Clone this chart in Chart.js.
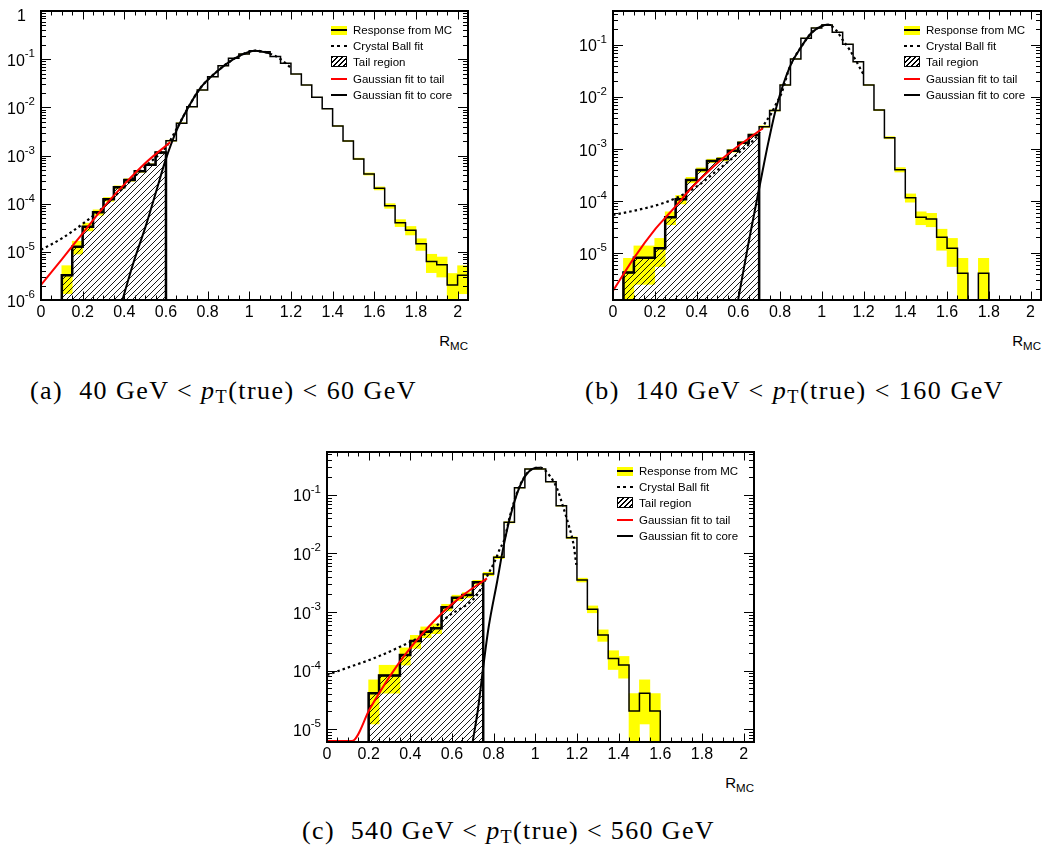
<!DOCTYPE html>
<html>
<head>
<meta charset="utf-8">
<title>Response distributions R_MC</title>
<script src="https://cdn.jsdelivr.net/npm/chart.js@4.4.1/dist/chart.umd.min.js"></script>
<style>
  html,body{margin:0;padding:0;background:#fff;}
  body{position:relative;width:1052px;height:848px;overflow:hidden;font-family:"Liberation Sans",Arial,Helvetica,sans-serif;color:#000;}
  canvas{position:absolute;}
  .leg{position:absolute;font-size:11.5px;}
  .row{position:absolute;left:0;width:140px;height:0;}
  .sym{position:absolute;left:0;width:16px;}
  .txt{position:absolute;left:22px;top:-8px;height:16px;line-height:16px;white-space:nowrap;}
  .s0{top:-4.5px;height:9px;background:linear-gradient(#ff0 0 3.5px,#000 3.5px 5.5px,#ff0 5.5px 9px);}
  .s1{top:-1px;height:2px;background:repeating-linear-gradient(90deg,#000 0 3px,transparent 3px 6.5px);}
  .s2{top:-5.5px;height:11px;box-sizing:border-box;border:1px solid #000;background:repeating-linear-gradient(135deg,#000 0 1px,transparent 1px 3.5px);}
  .s3{top:-1px;height:2px;background:#f00;}
  .s4{top:-1px;height:2px;background:#000;}
  .rmc{position:absolute;font-size:15px;line-height:15px;white-space:nowrap;}
  .rmc span{font-size:11.5px;position:relative;top:4px;}
  .cap{position:absolute;font-family:"Liberation Serif","Times New Roman",serif;font-size:26px;line-height:26px;white-space:nowrap;}
  .cap .sb{font-size:0.7em;position:relative;top:0.22em;}
</style>
</head>
<body>
<canvas id="cA" width="480" height="330" style="left:0px;top:0px"></canvas>
<canvas id="cB" width="492" height="330" style="left:560px;top:0px"></canvas>
<canvas id="cC" width="500" height="332" style="left:270px;top:440px"></canvas>
<div class="cap" id="capA" style="left:30px;top:378px">(a)&nbsp; 40 GeV &lt; <i>p</i><span class="sb">T</span>(true) &lt; 60 GeV</div>
<div class="cap" id="capB" style="left:585px;top:378px">(b)&nbsp; 140 GeV &lt; <i>p</i><span class="sb">T</span>(true) &lt; 160 GeV</div>
<div class="cap" id="capC" style="left:302px;top:818px">(c)&nbsp; 540 GeV &lt; <i>p</i><span class="sb">T</span>(true) &lt; 560 GeV</div>
<script>
// ---------------- DATA ----------------
const binLow = [0.00,0.05,0.10,0.15,0.20,0.25,0.30,0.35,0.40,0.45,0.50,0.55,0.60,0.65,0.70,0.75,0.80,0.85,0.90,0.95,
                1.00,1.05,1.10,1.15,1.20,1.25,1.30,1.35,1.40,1.45,1.50,1.55,1.60,1.65,1.70,1.75,1.80,1.85,1.90,1.95,2.00];
const binWidth = 0.05;
const xTickValues = [0,0.2,0.4,0.6,0.8,1,1.2,1.4,1.6,1.8,2];
const xTickLabels = ['0','0.2','0.4','0.6','0.8','1','1.2','1.4','1.6','1.8','2'];
const legendLabels = ['Response from MC','Crystal Ball fit','Tail region','Gaussian fit to tail','Gaussian fit to core'];

// panel (a) 40-60 GeV
const histA = [0,0,3.26e-6,1.28e-5,3.33e-5,6.6e-5,1.23e-4,2.19e-4,3.1e-4,4.7e-4,6.45e-4,1.15e-3,2.03e-3,4.7e-3,1.03e-2,2.29e-2,4.33e-2,7.3e-2,0.104,0.128,
               0.150,0.143,0.113,0.082,0.049,0.029,0.0161,9.4e-3,4.1e-3,2.0e-3,8.5e-4,4.13e-4,2.08e-4,9.0e-5,4.0e-5,2.8e-5,1.47e-5,6.3e-6,5.4e-6,2.05e-6,3.25e-6];
const errA  = [0,0,1.9e-6,3.8e-6,6.1e-6,8.5e-6,1.16e-5,1.55e-5,1.85e-5,2.3e-5,2.7e-5,3.6e-5,4.7e-5,7.2e-5,1.07e-4,1.6e-4,2.2e-4,2.8e-4,3.4e-4,3.8e-4,
               4.1e-4,4.0e-4,3.5e-4,3.0e-4,2.3e-4,1.8e-4,1.33e-4,1.02e-4,6.7e-5,4.7e-5,3.1e-5,2.1e-5,1.5e-5,1.0e-5,6.6e-6,5.6e-6,4.0e-6,2.6e-6,2.4e-6,1.5e-6,1.9e-6];
const tailCutA = 0.6;
const redAx  = [0,0.1,0.2,0.3,0.4,0.5,0.62];
const redAy  = [2.05e-6,7.0e-6,2.43e-5,8.4e-5,2.52e-4,6.9e-4,1.88e-3];
const cbAx   = [0,0.1,0.2,0.3,0.4,0.5,0.6,0.65,0.7,0.764,0.844,0.924,1.0,1.03,1.1,1.15,1.2];
const cbAy   = [1.1e-5,1.9e-5,3.8e-5,8.5e-5,2.25e-4,5.9e-4,1.5e-3,3.5e-3,8.8e-3,0.0248,0.055,0.1,0.143,0.150,0.13,0.1,0.066];
const coreAx = [0.392,0.443,0.507,0.555,0.599,0.652,0.7,0.764,0.844,0.924,1.0,1.03,1.1];
const coreAy = [1e-6,5.8e-6,3.9e-5,1.92e-4,8.3e-4,3.4e-3,8.8e-3,0.0248,0.055,0.1,0.143,0.150,0.132];
const yExpA = [0,-1,-2,-3,-4,-5,-6];

// panel (b) 140-160 GeV
const histB = [0,4.2e-6,8.1e-6,8.1e-6,1.23e-5,4.85e-5,1.08e-4,2.54e-4,3.95e-4,5.9e-4,6.4e-4,9.3e-4,1.32e-3,1.86e-3,2.69e-3,5.5e-3,1.7e-2,5.4e-2,0.135,0.213,
               0.243,0.175,0.103,0.0478,0.017,5.6e-3,1.65e-3,4.0e-4,1.16e-4,4.85e-5,4.5e-5,2.0e-5,1.23e-5,4.1e-6,0,4.1e-6,0,0,0,0,0];
const errB  = [0,3.7e-6,5.6e-6,5.6e-6,6.8e-6,1.35e-5,2.0e-5,3.1e-5,3.9e-5,4.7e-5,4.9e-5,5.9e-5,7.0e-5,8.3e-5,1.0e-4,1.4e-4,2.5e-4,4.5e-4,7.0e-4,9.0e-4,
               9.5e-4,8.0e-4,6.0e-4,4.2e-4,2.5e-4,1.45e-4,7.8e-5,3.9e-5,2.1e-5,1.35e-5,1.3e-5,8.7e-6,6.8e-6,3.8e-6,0,3.8e-6,0,0,0,0,0];
const tailCutB = 0.7;
const redBx  = [0,0.1,0.204,0.255,0.306,0.359,0.462,0.558,0.718];
const redBy  = [1.88e-6,8.0e-6,2.94e-5,5.0e-5,8.4e-5,1.51e-4,3.9e-4,8.5e-4,2.5e-3];
const cbBx   = [0,0.1,0.2,0.3,0.4,0.5,0.6,0.7,0.727,0.759,0.783,0.807,0.847,0.9,0.95,1.0,1.03,1.07,1.1,1.134,1.166,1.2];
const cbBy   = [5.4e-5,6.5e-5,8.1e-5,1.13e-4,1.89e-4,3.9e-4,8.3e-4,2.0e-3,3.1e-3,4.9e-3,7.6e-3,1.18e-2,0.038,0.09,0.17,0.232,0.245,0.19,0.125,0.08,0.048,0.027];
const coreBx = [0.6,0.652,0.703,0.745,0.783,0.847,0.9,0.95,1.0,1.03,1.045];
const coreBy = [1.26e-6,1.8e-5,2.0e-4,1.4e-3,6.5e-3,0.038,0.09,0.17,0.232,0.245,0.242];
const yExpB = [-1,-2,-3,-4,-5];

// panel (c) 540-560 GeV
const histC = [0,0,0,0,4.07e-5,8.2e-5,8.2e-5,1.84e-4,3.19e-4,4.6e-4,5.26e-4,1.2e-3,1.75e-3,1.95e-3,3.22e-3,4.47e-3,8.6e-3,3.41e-2,0.133,0.278,
               0.278,0.169,0.0656,0.0186,3.52e-3,1.12e-3,4.05e-4,1.61e-4,1.24e-4,2.03e-5,4.07e-5,2.03e-5,0,0,0,0,0,0,0,0,0];
const errC  = [0,0,0,0,2.85e-5,4.1e-5,4.1e-5,6.0e-5,8.0e-5,9.6e-5,1.0e-4,1.55e-4,1.9e-4,2.0e-4,2.55e-4,3.0e-4,4.2e-4,8.3e-4,1.6e-3,2.4e-3,
               2.4e-3,1.85e-3,1.15e-3,6.1e-4,2.65e-4,1.5e-4,9.0e-5,5.7e-5,5.0e-5,2.0e-5,2.85e-5,2.0e-5,0,0,0,0,0,0,0,0,0];
const tailCutC = 0.75;
const redCx  = [0,0.05,0.12,0.207,0.303,0.375,0.463,0.559,0.655,0.768];
const redCy  = [1.0e-6,2.0e-6,6.15e-6,2.26e-5,8.1e-5,1.87e-4,4.46e-4,1.01e-3,1.96e-3,3.76e-3];
const cbCx   = [0,0.111,0.223,0.351,0.463,0.591,0.72,0.776,0.808,0.832,0.848,0.88,0.92,0.96,1.0,1.024,1.072,1.104,1.136,1.16,1.184,1.197];
const cbCy   = [8.4e-5,1.16e-4,1.61e-4,2.55e-4,4.05e-4,8.9e-4,1.95e-3,4.6e-3,7.7e-3,1.25e-2,1.6e-2,0.046,0.13,0.235,0.29,0.293,0.206,0.13,0.059,0.0307,0.014,6.4e-3];
const coreCx = [0.70,0.725,0.752,0.776,0.816,0.848,0.88,0.92,0.96,1.0,1.024];
const coreCy = [4.5e-6,2.2e-5,1.3e-4,5.5e-4,3.2e-3,0.0135,0.043,0.125,0.232,0.29,0.293];
const yExpC = [-1,-2,-3,-4,-5];

// ---------------- LAYOUT / STYLE ----------------
const panels = [
  {id:'cA', left:0,   top:0,   yWidth:41, padTop:11, padRight:12, ymin:1e-6,   ymax:1,     hist:histA, err:errA, cut:tailCutA,
   red:[redAx,redAy], cb:[cbAx,cbAy], core:[coreAx,coreAy], yExp:yExpA},
  {id:'cB', left:560, top:0,   yWidth:53, padTop:11, padRight:11, ymin:1.25e-6, ymax:0.45,  hist:histB, err:errB, cut:tailCutB,
   red:[redBx,redBy], cb:[cbBx,cbBy], core:[coreBx,coreBy], yExp:yExpB},
  {id:'cC', left:270, top:440, yWidth:57, padTop:12, padRight:16, ymin:6.0e-6, ymax:0.543, hist:histC, err:errC, cut:tailCutC,
   red:[redCx,redCy], cb:[cbCx,cbCy], core:[coreCx,coreCy], yExp:yExpC}
];
const legendRowY = [19, 34.5, 50.5, 68, 84];
const captions = [['capA',387],['capB',419],['capC',413]];
const tickFont = '"Liberation Sans", Arial, sans-serif';

function hatchPattern(){
  const c = document.createElement('canvas'); c.width = 6; c.height = 6;
  const g = c.getContext('2d'); g.strokeStyle = '#000'; g.lineWidth = 0.9;
  g.beginPath();
  g.moveTo(0,6); g.lineTo(6,0);
  g.moveTo(-3,3); g.lineTo(3,-3);
  g.moveTo(3,9); g.lineTo(9,3);
  g.stroke();
  return g.createPattern(c,'repeat');
}

const rootFrame = {
  id:'rootFrame',
  afterDraw(chart, args, o){
    const ctx = chart.ctx, a = chart.chartArea, xs = chart.scales.x, ys = chart.scales.y;
    ctx.save();
    ctx.strokeStyle = '#000'; ctx.lineWidth = 1;
    ctx.beginPath();
    for (let k = 0; k <= 40; k++){
      const v = k*0.05;
      const px = Math.round(xs.getPixelForValue(v)) + 0.5;
      const L = (k % 4 === 0) ? 8.5 : 4.5;
      ctx.moveTo(px, a.bottom); ctx.lineTo(px, a.bottom - L);
      ctx.moveTo(px, a.top);    ctx.lineTo(px, a.top + L);
    }
    const lo = Math.floor(Math.log10(ys.min)), hi = Math.ceil(Math.log10(ys.max));
    for (let e = lo; e <= hi; e++){
      for (let m = 1; m <= 9; m++){
        const v = m*Math.pow(10, e);
        if (v < ys.min*(1-1e-9) || v > ys.max*(1+1e-9)) continue;
        const py = Math.round(ys.getPixelForValue(v)) + 0.5;
        const L = (m === 1) ? 10 : 5;
        ctx.moveTo(a.left, py);  ctx.lineTo(a.left + L, py);
        ctx.moveTo(a.right, py); ctx.lineTo(a.right - L, py);
      }
    }
    ctx.stroke();
    ctx.lineWidth = 2;
    ctx.strokeRect(a.left, a.top, a.right - a.left, a.bottom - a.top);
    ctx.fillStyle = '#000'; ctx.textBaseline = 'alphabetic'; ctx.textAlign = 'left';
    for (const e of o.exps){
      const py = ys.getPixelForValue(Math.pow(10, e));
      if (e === 0){
        ctx.font = '16px ' + tickFont;
        const w1 = ctx.measureText('1').width;
        ctx.fillText('1', a.left - 15 - w1, py + 9.5);
        continue;
      }
      const ex = String(e);
      const R = a.left - 6;
      ctx.font = '11.5px ' + tickFont;
      const we = ctx.measureText(ex).width;
      ctx.fillText(ex, R - we, py - 2);
      ctx.font = '16px ' + tickFont;
      const wb = ctx.measureText('10').width;
      ctx.fillText('10', R - we - wb, py + 6.5);
    }
    ctx.restore();
  }
};

function buildDatasets(P){
  const floor = P.ymin, n = binLow.length;
  const bands = [];
  for (let i = 0; i < n; i++){
    if (P.err[i] > 0) bands.push({x: binLow[i] + binWidth/2, y: [Math.max(P.hist[i] - P.err[i], 1e-12), P.hist[i] + P.err[i]]});
  }
  const hist = [];
  for (let i = 0; i < n; i++) hist.push({x: binLow[i], y: P.hist[i] > 0 ? P.hist[i] : floor});
  hist.push({x: binLow[n-1] + binWidth, y: P.hist[n-1] > 0 ? P.hist[n-1] : floor});
  let s = -1, e = -1;
  for (let i = 0; i < n; i++){
    if (binLow[i] < P.cut - 1e-9 && P.hist[i] > 0){ if (s < 0) s = i; e = i; }
  }
  const tail = [{x: binLow[s], y: floor}];
  for (let i = s; i <= e; i++) tail.push({x: binLow[i], y: P.hist[i] > 0 ? P.hist[i] : floor});
  tail.push({x: binLow[e] + binWidth, y: floor});
  // ROOT draws curve parts below the frame along its bottom edge
  const curveFloor = floor * 1.04;
  const curve = (xs, ys) => xs.map((x, i) => ({x: x, y: Math.max(ys[i], curveFloor)}));
  return [
    {type:'bar', data:bands, backgroundColor:'#ffff00', borderWidth:0, barPercentage:1, categoryPercentage:1, order:10},
    {type:'line', data:hist, stepped:'before', borderColor:'#000', borderWidth:1.5, pointRadius:0, fill:false, order:9},
    {type:'line', data:tail, stepped:'before', borderColor:'#000', borderWidth:2.5, pointRadius:0, fill:'start', backgroundColor:hatchPattern(), order:8},
    {type:'line', data:curve(P.cb[0], P.cb[1]), borderColor:'#000', borderWidth:2.2, borderDash:[2.5,3], pointRadius:0, cubicInterpolationMode:'monotone', fill:false, order:7},
    {type:'line', data:curve(P.core[0], P.core[1]), borderColor:'#000', borderWidth:2, pointRadius:0, cubicInterpolationMode:'monotone', fill:false, order:6},
    {type:'line', data:curve(P.red[0], P.red[1]), borderColor:'#ff0000', borderWidth:2, pointRadius:0, cubicInterpolationMode:'monotone', fill:false, order:5}
  ];
}

function decorate(chart, P){
  const a = chart.chartArea;
  const R = P.left + a.right, T = P.top + a.top, B = P.top + a.bottom;
  const leg = document.createElement('div');
  leg.className = 'leg'; leg.style.left = (R - 137) + 'px'; leg.style.top = T + 'px';
  legendLabels.forEach((t, i) => {
    const row = document.createElement('div'); row.className = 'row'; row.style.top = legendRowY[i] + 'px';
    const sym = document.createElement('div'); sym.className = 'sym s' + i;
    const txt = document.createElement('div'); txt.className = 'txt'; txt.textContent = t;
    row.appendChild(sym); row.appendChild(txt); leg.appendChild(row);
  });
  document.body.appendChild(leg);
  const rm = document.createElement('div'); rm.className = 'rmc';
  rm.appendChild(document.createTextNode('R'));
  const sp = document.createElement('span'); sp.textContent = 'MC'; rm.appendChild(sp);
  rm.style.right = (1052 - R) + 'px'; rm.style.top = (B + 33) + 'px';
  document.body.appendChild(rm);
}

panels.forEach(P => {
  const chart = new Chart(document.getElementById(P.id), {
    type: 'line',
    data: {datasets: buildDatasets(P)},
    plugins: [rootFrame],
    options: {
      responsive: false, animation: false, devicePixelRatio: 1, events: [],
      layout: {padding: {left: 0, top: P.padTop, right: P.padRight, bottom: 0}},
      plugins: {legend: {display: false}, tooltip: {enabled: false}, rootFrame: {exps: P.yExp}},
      scales: {
        x: {type: 'linear', min: 0, max: 2.05, offset: false,
            grid: {display: false, drawTicks: false}, border: {display: false},
            afterBuildTicks: s => { s.ticks = xTickValues.map(v => ({value: v})); },
            afterFit: s => { s.height = 30; },
            ticks: {padding: 3, color: '#000', autoSkip: false, maxRotation: 0,
                    font: {family: tickFont, size: 16},
                    callback: (v, i) => xTickLabels[i]}},
        y: {type: 'logarithmic', min: P.ymin, max: P.ymax,
            grid: {display: false, drawTicks: false}, border: {display: false},
            ticks: {display: false},
            afterFit: s => { s.width = P.yWidth; }}
      }
    }
  });
  decorate(chart, P);
});

captions.forEach(([id, target]) => {
  const el = document.getElementById(id);
  const w = el.getBoundingClientRect().width;
  const nChars = el.textContent.length;
  el.style.letterSpacing = ((target - w) / nChars) + 'px';
});
</script>
</body>
</html>
